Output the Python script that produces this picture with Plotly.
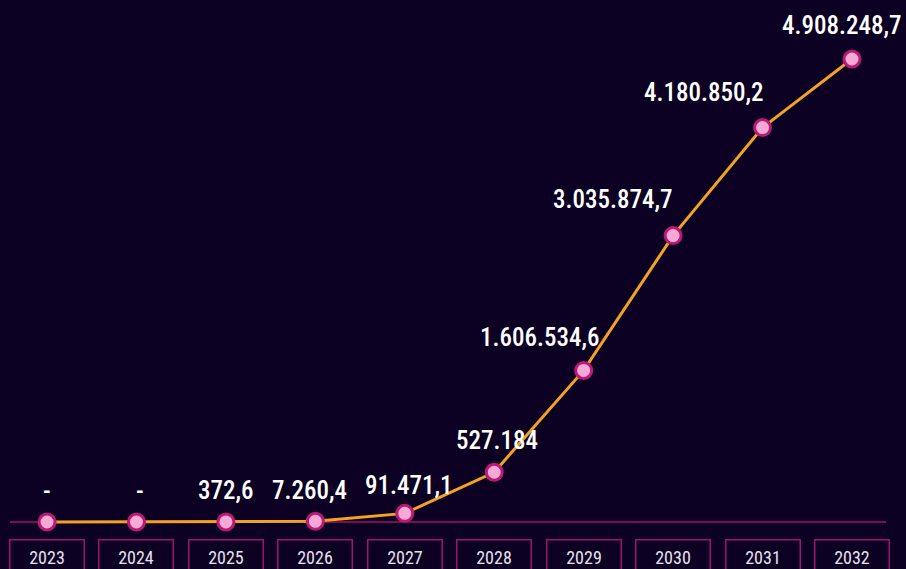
import plotly.graph_objects as go

years = [2023, 2024, 2025, 2026, 2027, 2028, 2029, 2030, 2031, 2032]
values = [0, 0, 372.6, 7260.4, 91471.1, 527184, 1606534.6, 3035874.7, 4180850.2, 4908248.7]
value_labels = ["-", "-", "372,6", "7.260,4", "91.471,1", "527.184",
                "1.606.534,6", "3.035.874,7", "4.180.850,2", "4.908.248,7"]
year_labels = [str(y) for y in years]

# label nudges (px), to keep labels clear of the line
label_xshift = [0, 4, 0, -6, 4, 3, -44, -61, -59, -10]
label_yshift = [31, 31, 31, 31, 28, 32, 33, 36, 35, 34]

BG = "#0c0122"
LABEL_FONT = "Roboto Condensed, Liberation Sans Narrow, sans-serif"

fig = go.Figure()
fig.add_trace(go.Scatter(
    x=years, y=values, mode="lines+markers",
    line=dict(color="#f2a324", width=3),
    marker=dict(size=16, color="#f6a8d6", line=dict(color="#b81a74", width=3)),
    hoverinfo="skip", cliponaxis=False,
))

# baseline
fig.add_shape(type="line", xref="paper", yref="y",
              x0=10 / 906, x1=886 / 906, y0=0, y1=0,
              line=dict(color="#a3106a", width=1.5), layer="below")

for x, v, t, dx, dy in zip(years, values, value_labels, label_xshift, label_yshift):
    fig.add_annotation(x=x, y=v, xref="x", yref="y", text=t, showarrow=False,
                       xshift=dx, yshift=dy, yanchor="middle",
                       font=dict(family=LABEL_FONT, size=25, color="#ffffff", weight=500))

for x, t in zip(years, year_labels):
    fig.add_annotation(x=x, y=-0.051, xref="x", yref="paper", text=t, showarrow=False,
                       yanchor="middle", width=71, height=31, borderpad=1,
                       bordercolor="#9c1470", borderwidth=1.5,
                       font=dict(family=LABEL_FONT, size=18, color="#e6e2ec"))

fig.update_layout(
    width=906, height=569,
    margin=dict(l=0, r=0, t=0, b=39),
    paper_bgcolor=BG, plot_bgcolor=BG,
    showlegend=False,
    xaxis=dict(range=[2022.474, 2032.604], visible=False, fixedrange=True),
    yaxis=dict(range=[-84810, 5533700], visible=False, fixedrange=True),
)

fig.write_html("out.html")
